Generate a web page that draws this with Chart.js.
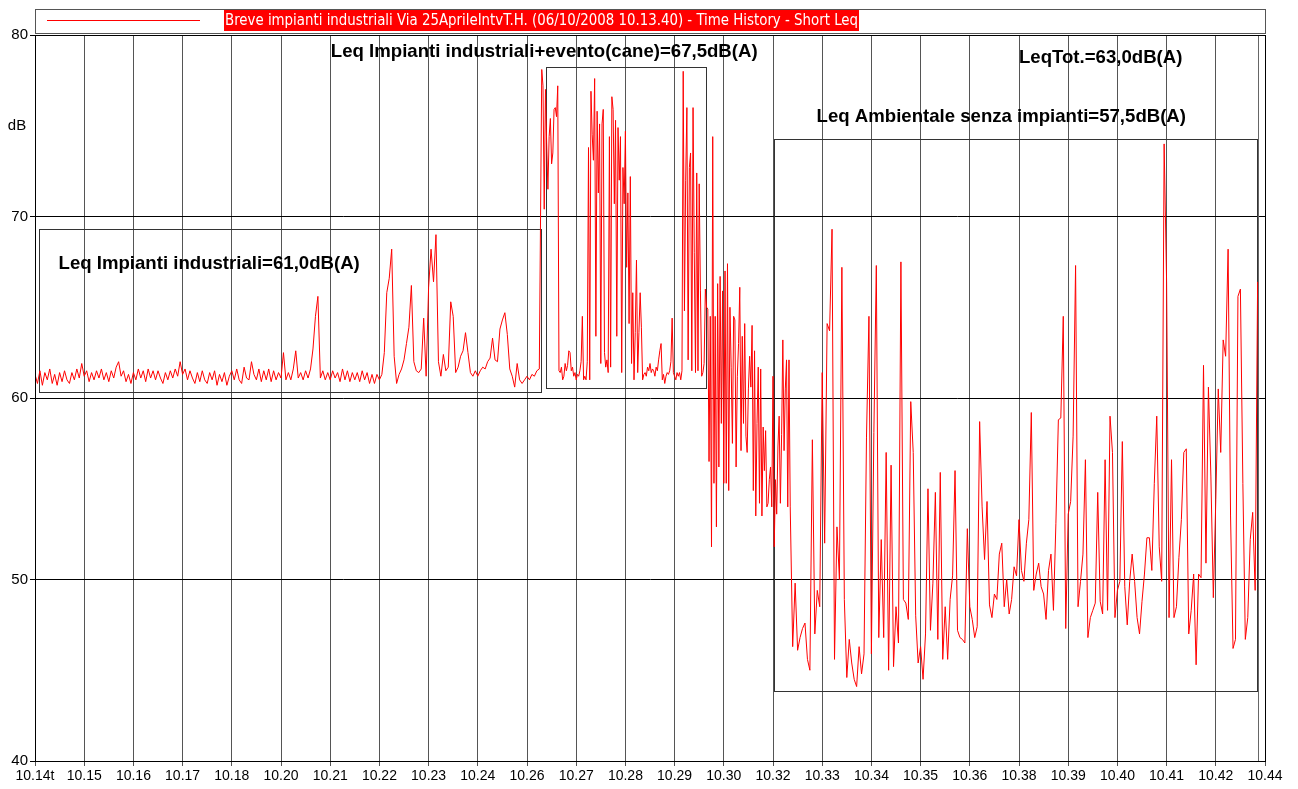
<!DOCTYPE html>
<html>
<head>
<meta charset="utf-8">
<title>Time History - Short Leq</title>
<script src="https://cdn.jsdelivr.net/npm/chart.js@4.4.1/dist/chart.umd.min.js"></script>
<style>
  html, body { margin: 0; padding: 0; background: #fff; overflow: hidden; }
  #wrap { position: relative; width: 1298px; height: 789px; }
</style>
</head>
<body>
<div id="wrap"><canvas id="timeHistory"></canvas></div>
<script>
// x axis tick labels (one every 1.2 min)
const xLabels = ['10.14t', '10.15', '10.16', '10.17', '10.18', '10.20', '10.21', '10.22', '10.23', '10.24',
    '10.26', '10.27', '10.28', '10.29', '10.30', '10.32', '10.33', '10.34', '10.35', '10.36',
    '10.38', '10.39', '10.40', '10.41', '10.42', '10.44'];

const legendText = 'Breve impianti industriali Via 25AprileIntvT.H. (06/10/2008 10.13.40) - Time History - Short Leq';

// Short Leq, dB(A). Time in tick units (1 tick = 1.2 min).
// plants only: from 0, one reading every 0.05 tick (3.6 s)
const quietStart = 0, quietStep = 0.05;
const quietLevels = [
    61.3, 60.8, 61.5, 60.7, 61.4, 61.0, 61.6, 60.8, 61.3, 60.7,
    61.4, 60.9, 61.5, 61.0, 60.8, 61.4, 61.0, 61.6, 61.1, 61.9,
    61.2, 61.5, 60.9, 61.4, 61.0, 61.5, 61.1, 61.6, 61.0, 61.4,
    60.9, 61.5, 61.1, 61.7, 62.0, 61.2, 61.5, 60.9, 61.3, 60.8,
    61.4, 61.0, 61.6, 61.1, 61.5, 60.9, 61.6, 61.1, 61.5, 61.0,
    61.5, 61.1, 60.8, 61.4, 61.0, 61.5, 61.1, 61.6, 61.2, 62.0,
    61.3, 61.6, 61.0, 61.5, 61.1, 60.8, 61.4, 60.9, 61.5, 61.0,
    60.8, 61.4, 61.0, 61.5, 60.7, 61.3, 60.9, 61.4, 60.7, 61.2,
    61.5, 61.0, 61.6, 61.0, 60.8, 61.7, 61.1, 61.0, 62.0, 61.3,
    61.0, 61.6, 60.9, 61.5, 61.0, 61.6, 60.9, 61.5, 61.0, 61.4,
    61.1, 62.5, 61.0, 61.4, 61.0, 61.6, 62.6, 61.1, 61.4, 61.0,
    61.5, 61.1, 61.6, 62.7, 64.5, 65.6, 61.1, 61.5, 61.0, 61.4,
    61.0, 61.5, 61.1, 61.4, 60.9, 61.6, 61.0, 61.5, 60.9, 61.4,
    61.0, 61.4, 60.9, 61.5, 61.0, 61.4, 60.8, 61.3, 60.8, 61.3,
    61.0, 61.3, 62.5, 65.8, 66.6, 68.2, 62.3, 60.8, 61.3, 61.6,
    62.1, 63.0, 63.9, 66.2, 62.0, 61.5, 61.4, 61.6, 64.4, 61.2,
    66.1, 68.2, 66.4, 69.0, 62.0, 61.2, 62.4, 61.5, 61.7, 65.3,
    64.5, 61.4, 61.7, 62.3, 62.6, 63.6, 62.5, 61.4, 61.2, 61.5,
    61.2, 61.5, 61.7, 61.6, 62.0, 62.2, 63.3, 62.1, 62.0, 63.8,
    64.3, 64.7, 63.5, 61.6, 61.2, 60.6, 61.9, 61.0, 60.8, 61.0,
    61.2, 61.0, 61.3, 61.2, 61.5, 61.6
];

// plants + dog event and transition: from 10.3, one reading every 0.025 tick
const burstStart = 10.3, burstStep = 0.025;
const burstLevels = [
    78.1, 77.2, 70.4, 77.0, 74.0, 71.5, 74.4, 75.4, 72.9, 73.5,
    75.9, 76.0, 75.5, 77.2, 61.5, 61.4, 61.7, 61.0, 61.2, 61.9,
    61.5, 61.8, 62.6, 62.5, 61.5, 61.7, 61.2, 61.4, 61.0, 61.3,
    61.2, 61.5, 62.0, 64.5, 61.0, 61.2, 61.0, 62.0, 73.8, 61.0,
    76.9, 74.5, 73.1, 77.6, 63.4, 75.8, 71.3, 75.1, 61.9, 75.1,
    75.9, 62.5, 61.7, 62.1, 61.4, 74.4, 61.7, 76.6, 75.9, 70.7,
    75.3, 63.4, 74.9, 72.0, 74.4, 61.4, 72.7, 70.7, 74.7, 67.2,
    71.3, 64.1, 72.2, 61.9, 65.8, 61.0, 63.6, 67.6, 61.4, 63.6,
    65.8, 63.9, 61.0, 61.3, 61.4, 61.2, 61.7, 61.5, 61.9, 61.4,
    61.6, 61.5, 61.2, 61.7, 61.5, 62.1, 62.6, 63.0, 61.0, 61.3,
    60.8, 61.2, 61.4, 61.3, 61.5, 62.0, 64.4, 61.4, 61.2, 61.0,
    61.4, 61.2, 61.4, 61.0, 61.5, 78.0, 64.8, 72.0, 76.0, 62.1,
    72.7, 73.5, 61.5, 76.0, 68.0, 61.4, 72.4, 61.5, 71.8, 65.9,
    61.2, 61.4, 61.9, 66.0, 65.0, 64.9, 56.5, 64.5, 51.8, 74.4,
    55.3, 64.5, 52.9, 66.3, 56.2, 66.7, 58.6, 65.9, 55.3, 67.0,
    55.3, 67.4, 54.9, 65.0, 61.7, 57.5, 64.5, 64.3, 56.2, 61.2,
    63.0, 66.1, 57.1, 63.4, 58.6, 64.1, 57.9, 57.0, 60.5, 62.3,
    60.6, 64.0, 54.9, 62.6, 53.5, 58.6, 61.7, 54.2, 61.6, 53.5,
    58.4, 56.0, 58.2, 54.0, 54.2, 55.5, 56.2, 54.0, 61.2, 51.8,
    55.5, 53.6, 57.3, 59.0, 54.2, 58.0, 63.2, 57.1, 60.5, 62.1,
    54.0, 62.1, 54.0
];

// ambient without plants: from 15.4, one reading every 0.05 tick
const tailStart = 15.4, tailStep = 0.05;
const tailLevels = [
    46.3, 49.8,
    46.1, 46.8, 47.3, 47.6, 45.6, 45.0, 57.7, 47.0, 49.4, 48.5,
    61.4, 52.0, 64.1, 63.7, 69.3, 45.6, 52.9, 50.0, 67.2, 48.9,
    44.6, 46.7, 45.4, 44.5, 44.1, 46.3, 44.8, 45.9, 57.8, 64.5,
    45.9, 58.1, 67.3, 46.8, 52.2, 46.8, 57.0, 45.0, 56.3, 45.2,
    48.5, 46.5, 67.5, 48.9, 48.7, 47.8, 59.8, 57.0, 48.0, 45.4,
    46.3, 44.5, 47.0, 55.0, 47.2, 49.8, 54.8, 46.7, 55.9, 45.6,
    48.5, 45.6, 48.9, 50.2, 56.0, 47.2, 46.8, 46.7, 46.5, 52.8,
    48.5, 47.8, 46.8, 47.4, 58.7, 54.0, 51.1, 54.3, 48.6, 47.9,
    49.2, 48.9, 51.4, 52.0, 48.5, 50.0, 48.1, 48.9, 50.7, 50.2,
    53.3, 50.5, 49.9, 52.0, 53.3, 59.2, 49.4, 50.3, 50.9, 49.6,
    49.2, 47.8, 50.5, 51.4, 48.3, 53.1, 58.8, 58.9, 64.5, 47.3,
    53.6, 54.3, 57.9, 67.3, 48.5, 49.9, 51.4, 56.6, 46.8, 47.9,
    48.3, 48.7, 54.8, 48.8, 48.1, 56.6, 48.3, 59.0, 57.0, 47.9,
    49.4, 49.9, 57.6, 49.6, 47.5, 49.9, 51.4, 49.9, 47.9, 47.0,
    48.8, 50.3, 52.3, 52.3, 50.5, 55.3, 59.0, 51.8, 49.9, 74.0,
    66.4, 47.9, 56.6, 47.9, 48.5, 51.2, 53.3, 57.0, 57.2, 47.0,
    48.3, 50.3, 45.3, 50.3, 50.1, 61.8, 50.9, 60.6, 55.7, 49.0,
    54.4, 60.5, 57.0, 63.2, 62.3, 68.2, 53.5, 46.2, 46.7, 65.6,
    66.0, 55.3, 46.7, 47.9, 52.2, 53.7, 49.4, 66.4
];

// marked intervals (x in tick units, y in dB)
const boxes = [
    { x0: 0.09, x1: 10.28, y0: 60.32, y1: 69.3 },
    { x0: 10.39, x1: 13.63, y0: 60.53, y1: 78.25 },
    { x0: 15.02, x1: 24.84, y0: 43.86, y1: 74.25 }
];

const notes = [
    { text: 'Leq Impianti industriali=61,0dB(A)', x: 3.54, y: 67.4 },
    { text: 'Leq Impianti industriali+evento(cane)=67,5dB(A)', x: 10.35, y: 79.06 },
    { text: 'Leq Ambientale senza impianti=57,5dB(A)', x: 19.64, y: 75.48 },
    { text: 'LeqTot.=63,0dB(A)', x: 21.66, y: 78.73 }
];

const FONT = '"Liberation Sans", Arial, Helvetica, sans-serif';

const toPoints = (vals, start, step) => vals.map((v, i) => ({ x: start + i * step, y: v }));
const points = [
    ...toPoints(quietLevels, quietStart, quietStep),
    ...toPoints(burstLevels, burstStart, burstStep),
    ...toPoints(tailLevels, tailStart, tailStep)
];
const recordEnd = tailStart + (tailLevels.length - 1) * tailStep;

const decorPlugin = {
    id: 'decor',
    beforeDatasetsDraw(chart) {
        const { ctx, chartArea } = chart;
        const x = chart.scales.x, y = chart.scales.y;
        ctx.save();
        ctx.lineWidth = 1;
        ctx.strokeStyle = '#333';
        boxes.forEach(b => {
            const l = Math.round(x.getPixelForValue(b.x0)) + 0.5;
            const r = Math.round(x.getPixelForValue(b.x1)) + 0.5;
            const t = Math.round(y.getPixelForValue(b.y1)) + 0.5;
            const bt = Math.round(y.getPixelForValue(b.y0)) + 0.5;
            ctx.strokeRect(l, t, r - l, bt - t);
        });
        // end of record
        const ex = Math.round(x.getPixelForValue(recordEnd)) + 0.5;
        ctx.strokeStyle = '#666';
        ctx.beginPath();
        ctx.moveTo(ex, chartArea.top);
        ctx.lineTo(ex, chartArea.bottom);
        ctx.stroke();
        ctx.restore();
    },
    afterDraw(chart) {
        const { ctx, chartArea } = chart;
        const x = chart.scales.x, y = chart.scales.y;
        ctx.save();

        // frame
        ctx.strokeStyle = '#000';
        ctx.lineWidth = 1;
        ctx.strokeRect(chartArea.left + 0.5, chartArea.top + 0.5,
            chartArea.right - chartArea.left, chartArea.bottom - chartArea.top);

        // Leq notes
        ctx.fillStyle = '#000';
        ctx.font = 'bold 18.6px ' + FONT;
        ctx.textAlign = 'center';
        ctx.textBaseline = 'middle';
        notes.forEach(n => {
            ctx.fillText(n.text, x.getPixelForValue(n.x), y.getPixelForValue(n.y));
        });

        // unit
        ctx.font = '15px ' + FONT;
        ctx.fillText('dB', chartArea.left - 18, y.getPixelForValue(75));

        // legend
        const lt = 9, lb = 33;
        ctx.strokeStyle = '#555';
        ctx.strokeRect(chartArea.left + 0.5, lt + 0.5, chartArea.right - chartArea.left, lb - lt);
        ctx.strokeStyle = '#ff0000';
        ctx.beginPath();
        ctx.moveTo(chartArea.left + 12, 20.5);
        ctx.lineTo(chartArea.left + 165, 20.5);
        ctx.stroke();
        const tx = chartArea.left + 189, tw = 635;
        ctx.fillStyle = '#ff0000';
        ctx.fillRect(tx, lt + 1, tw, 21);
        ctx.font = '16px "Liberation Sans Narrow", "DejaVu Sans Condensed", ' + FONT;
        const w = ctx.measureText(legendText).width;
        ctx.translate(tx + 1, lt + 12);
        ctx.scale((tw - 2) / w, 1);
        ctx.fillStyle = '#fff';
        ctx.textAlign = 'left';
        ctx.fillText(legendText, 0, 0);
        ctx.restore();
    }
};

const ctx = document.getElementById('timeHistory').getContext('2d');
new Chart(ctx, {
    type: 'line',
    data: {
        datasets: [{
            label: legendText,
            data: points,
            borderColor: '#ff0000',
            borderWidth: 1,
            pointRadius: 0,
            tension: 0,
            fill: false
        }]
    },
    options: {
        responsive: true,
        maintainAspectRatio: false,
        animation: false,
        layout: { padding: { top: 35, right: 33, left: 0, bottom: 0 } },
        plugins: {
            legend: { display: false },
            tooltip: { enabled: false }
        },
        scales: {
            x: {
                type: 'linear',
                min: 0,
                max: 25,
                ticks: {
                    stepSize: 1,
                    autoSkip: false,
                    maxRotation: 0,
                    color: '#000',
                    padding: 2,
                    font: { size: 14, family: FONT },
                    callback: v => xLabels[v] ?? ''
                },
                grid: { color: '#555', tickLength: 5 },
                border: { color: '#000' },
                afterFit(s) { s.height = 28; }
            },
            y: {
                min: 40,
                max: 80,
                ticks: {
                    stepSize: 10,
                    color: '#000',
                    padding: 2,
                    font: { size: 15, family: FONT }
                },
                grid: { color: '#000', tickLength: 5 },
                border: { color: '#000' },
                afterFit(s) { s.width = 35; }
            }
        }
    },
    plugins: [decorPlugin]
});
</script>
</body>
</html>
